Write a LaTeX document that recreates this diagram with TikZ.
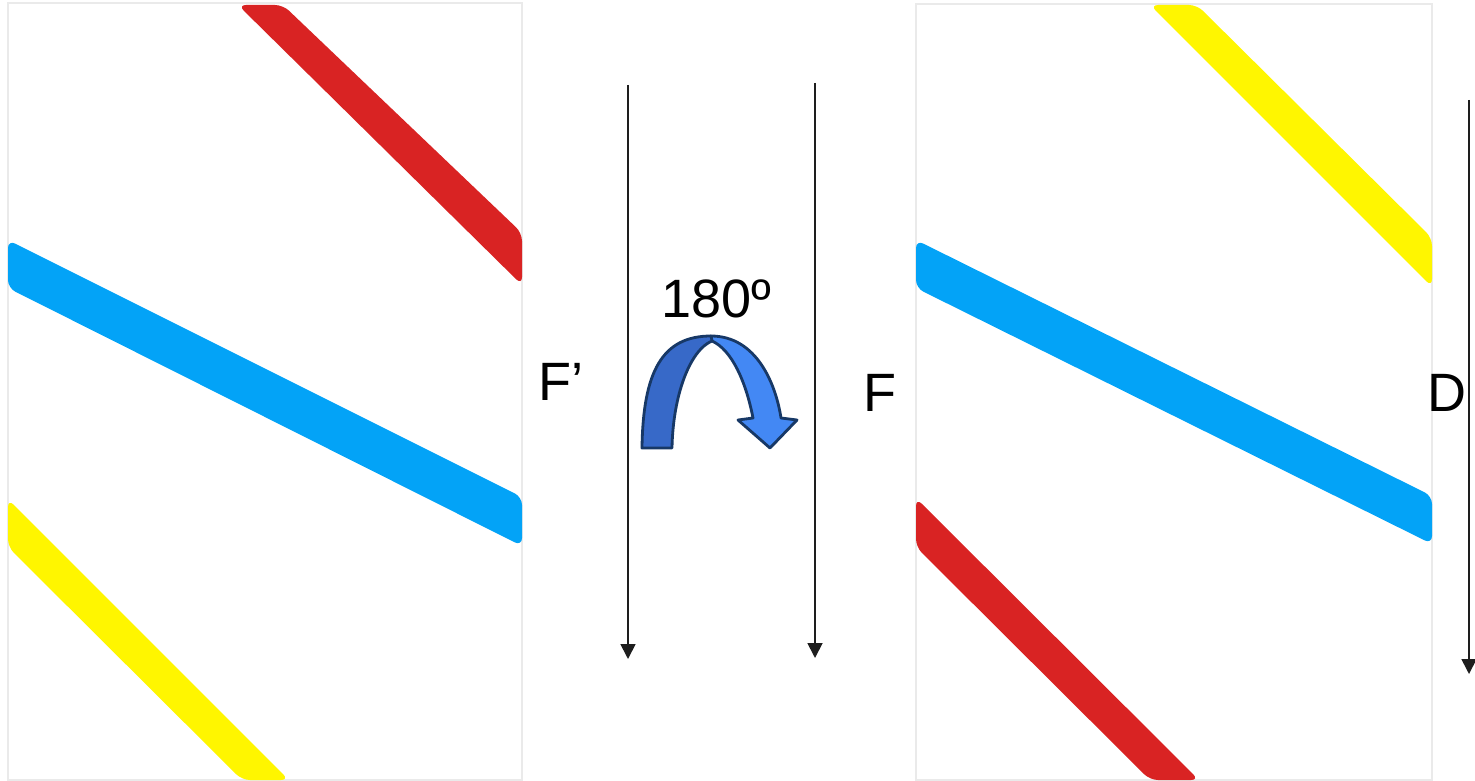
\documentclass[tikz,border=0pt]{standalone}
\usepackage{fontspec}
\setmainfont{Liberation Sans}
\usetikzlibrary{arrows.meta}
\definecolor{sred}{HTML}{D92323}
\definecolor{sblue}{HTML}{03A3F7}
\definecolor{syellow}{HTML}{FFF600}
\definecolor{panelgray}{HTML}{EAEAEA}
\definecolor{arcdark}{HTML}{3769C8}
\definecolor{arclight}{HTML}{4388F4}
\definecolor{arcline}{HTML}{173866}
\definecolor{ink}{HTML}{1E1E1E}
\tikzset{
  panel/.style={draw=panelgray, line width=1.2pt, fill=white},
  stripe/.style={rounded corners=8pt},
  downarrow/.style={draw=ink, line width=1.8pt, -{Triangle[width=15pt,length=15pt]}},
  lbl/.style={inner sep=0pt, font=\fontsize{54}{60}\selectfont, text=black},
  arcpiece/.style={draw=arcline, line width=2.8pt, line join=round}
}
\begin{document}
\begin{tikzpicture}[x=1pt,y=-1pt]
\useasboundingbox (0,0) rectangle (1475,781);
\fill[white] (0,0) rectangle (1475,781);

% left panel
\draw[panel] (8,3) rectangle (522,780);
\begin{scope}
  \clip (8,3) rectangle (522,780);
  \fill[sred, stripe] (238,5) -- (283,5) -- (522,233) -- (522,285) -- cycle;
  \fill[sblue, stripe] (8,240) -- (522,497) -- (522,546) -- (8,288) -- cycle;
  \fill[syellow, stripe] (8,499) -- (289,780) -- (242,780) -- (8,547) -- cycle;
\end{scope}

% right panel
\draw[panel] (916,4) rectangle (1432,780);
\begin{scope}
  \clip (916,4) rectangle (1432,780);
  \fill[syellow, stripe] (1150,5) -- (1197,5) -- (1432,238) -- (1432,287) -- cycle;
  \fill[sblue, stripe] (916,240) -- (1432,496) -- (1432,544) -- (916,288) -- cycle;
  \fill[sred, stripe] (916,498) -- (1199,780) -- (1150,780) -- (916,547) -- cycle;
\end{scope}

% vertical arrows
\coordinate (a1s) at (628,85);  \coordinate (a1e) at (628,659);
\coordinate (a2s) at (815,83);  \coordinate (a2e) at (815,658);
\coordinate (a3s) at (1469,100); \coordinate (a3e) at (1469,674);
\draw[downarrow] (a1s) -- (a1e);
\draw[downarrow] (a2s) -- (a2e);
\draw[downarrow] (a3s) -- (a3e);

% labels
\node[lbl] (fprime) at (561,382) {F’};
\node[lbl] (deg) at (716,299) {180º};
\node[lbl] (f) at (880,393) {F};
\node[lbl] (d) at (1447,393) {D};

% curved rotation arrow
\filldraw[arcpiece, fill=arclight]
  (711,336) .. controls (757,336) and (776,385) .. (781,418)
  -- (797,420) -- (770,448) -- (738,420) -- (753,418)
  .. controls (746,382) and (732,350) .. (712,341) -- cycle;
\filldraw[arcpiece, fill=arcdark]
  (642,448) .. controls (643,372) and (662,336) .. (711,336)
  -- (712,341) .. controls (690,350) and (673,395) .. (672,448) -- cycle;
\end{tikzpicture}
\end{document}
